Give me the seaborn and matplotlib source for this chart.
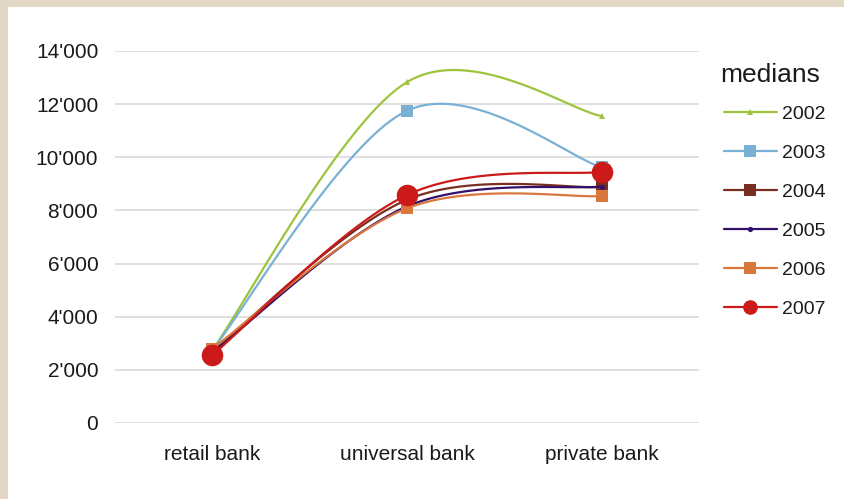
import numpy as np
import pandas as pd
import matplotlib
matplotlib.use("Agg")
import matplotlib.pyplot as plt
from matplotlib.lines import Line2D
from matplotlib.patches import Rectangle
import seaborn as sns

# Bank categories and yearly medians
categories = ["retail bank", "universal bank", "private bank"]
years = ["2002", "2003", "2004", "2005", "2006", "2007"]
med_2002 = [2750, 12830, 11550]
med_2003 = [2750, 11750, 9620]
med_2004 = [2700, 8400, 8880]
med_2005 = [2650, 8150, 8900]
med_2006 = [2800, 8080, 8540]
med_2007 = [2560, 8580, 9450]
y_ticks = [0, 2000, 4000, 6000, 8000, 10000, 12000, 14000]
y_tick_labels = ["0", "2'000", "4'000", "6'000", "8'000", "10'000", "12'000", "14'000"]

series = dict(zip(years, [med_2002, med_2003, med_2004, med_2005, med_2006, med_2007]))

colors = {"2002": "#9DC43C", "2003": "#7BB0D5", "2004": "#7A2E22",
          "2005": "#33106A", "2006": "#D9773C", "2007": "#CC1A1A"}
markers = {"2002": ("^", 5), "2003": ("s", 8.6), "2004": ("s", 8.6),
           "2005": ("o", 3.8), "2006": ("s", 8.6), "2007": ("o", 15.5)}


def smooth(xs, ys, n=60):
    """Cubic Bezier smoothing through every point (spreadsheet-style smoothed line)."""
    pts = np.column_stack([xs, ys]).astype(float)
    out = []
    for i in range(len(pts) - 1):
        p0 = pts[i - 1] if i > 0 else pts[i]
        p1, p2 = pts[i], pts[i + 1]
        p3 = pts[i + 2] if i + 2 < len(pts) else pts[i + 1]
        c1 = p1 + (p2 - p0) / 6.0
        c2 = p2 - (p3 - p1) / 6.0
        t = np.linspace(0, 1, n)[:, None]
        seg = ((1 - t) ** 3) * p1 + 3 * ((1 - t) ** 2) * t * c1 + 3 * (1 - t) * t ** 2 * c2 + t ** 3 * p2
        out.append(seg if i == 0 else seg[1:])
    return np.vstack(out)


frames = []
for yr, vals in series.items():
    curve = smooth(np.arange(len(categories)), vals)
    frames.append(pd.DataFrame({"pos": curve[:, 0], "value": curve[:, 1], "year": yr}))
curves = pd.concat(frames, ignore_index=True)

sns.set_theme(style="white")
plt.rcParams["font.family"] = ["Liberation Sans", "DejaVu Sans"]
plt.rcParams["text.color"] = "#1a1a1a"

fig = plt.figure(figsize=(8.44, 4.99), dpi=100)
fig.patch.set_facecolor("#E3D7C5")
W, H = 844, 499
fig.patches.append(Rectangle((8 / W, 0), 1, 1 - 7 / H, transform=fig.transFigure,
                             facecolor="white", edgecolor="none", zorder=-10))

ax = fig.add_axes([115 / W, 1 - 423 / H, 584 / W, 372 / H])
ax.set_facecolor("none")

LW = 1.6
for k, yr in enumerate(years):
    sub = curves[curves["year"] == yr]
    sns.lineplot(data=sub, x="pos", y="value", sort=False, estimator=None,
                 color=colors[yr], linewidth=LW, ax=ax, legend=False, zorder=3 + 2 * k)
    m, ms = markers[yr]
    ax.plot(np.arange(len(categories)), series[yr], linestyle="none", marker=m,
            markersize=ms, color=colors[yr], markeredgewidth=0, zorder=4 + 2 * k)

ax.set_xlim(-0.5, len(categories) - 0.5)
ax.set_ylim(0, 14000)
ax.set_xticks(range(len(categories)))
ax.set_xticklabels(categories)
ax.set_yticks(y_ticks)
ax.set_yticklabels(y_tick_labels)
ax.set_xlabel("")
ax.set_ylabel("")
ax.yaxis.grid(True, color="#D9D9D9", linewidth=1.2)
ax.xaxis.grid(False)
for s in ax.spines.values():
    s.set_visible(False)
ax.tick_params(axis="x", length=0, pad=16, labelsize=15, labelcolor="#1a1a1a")
ax.tick_params(axis="y", length=0, pad=12, labelsize=15, labelcolor="#1a1a1a")

# legend: title as its own text, entries below
fig.text(770 / W, 1 - 75 / H, "medians", ha="center", va="center", fontsize=19,
         color="#1a1a1a")
handles = [Line2D([], [], color=colors[yr], linewidth=LW, marker=markers[yr][0],
                  markersize=min(markers[yr][1], 9.5) if yr != "2007" else 10.5,
                  markeredgewidth=0) for yr in years]
leg = fig.legend(handles, years, loc="upper left",
                 bbox_to_anchor=(724 / W, 1 - 105 / H), frameon=False,
                 fontsize=14, handlelength=2.7, borderpad=0,
                 handletextpad=0.3, labelspacing=1.1, borderaxespad=0)

fig.savefig("out.png", dpi=100, facecolor=fig.get_facecolor())
